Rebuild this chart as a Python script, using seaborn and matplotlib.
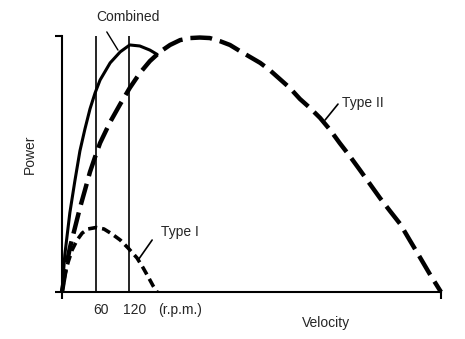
import matplotlib
matplotlib.use("Agg")
import matplotlib.pyplot as plt
import seaborn as sns
import pandas as pd

# Power-velocity relationships of Type I, Type II fibres and the combined muscle
velocity_type2 = [0, 7, 14, 23, 32, 41, 50, 59, 68, 86, 104, 121, 139, 157, 175, 193,
                  211, 229, 246, 264, 282, 300, 318, 336, 354, 371, 389, 407, 425, 443,
                  461, 479, 496, 514, 532, 550, 568, 586, 604, 621, 639, 657, 677]
power_type2 = [0, 9.4, 17.2, 25.0, 32.8, 39.8, 46.9, 52.7, 58.2, 66.4, 73.4, 79.7, 85.5,
               90.2, 93.8, 96.5, 98.4, 99.2, 99.4, 99.2, 98.0, 96.5, 94.1, 91.8, 89.5,
               86.7, 83.2, 79.7, 75.4, 71.9, 68.0, 63.3, 58.2, 53.1, 47.7, 42.2, 36.7,
               31.6, 26.6, 20.3, 13.7, 7.0, 0]

velocity_type1 = [0, 5, 11, 18, 27, 36, 46, 61, 75, 89, 104, 118, 134, 145, 154, 163, 170]
power_type1 = [0, 6.6, 11.7, 16.4, 20.3, 23.0, 24.6, 25.2, 24.6, 22.7, 20.3, 17.2, 13.3,
               9.4, 5.9, 2.3, 0]

velocity_combined = [0, 5, 14, 23, 32, 41, 50, 59, 68, 86, 104, 121, 139, 157, 170]
power_combined = [0, 14.5, 30.9, 43.4, 55.1, 63.7, 71.5, 77.7, 82.8, 89.5, 93.8, 96.5,
                  96.1, 94.5, 92.8]

marked_rpm = [60, 120]
marked_labels = ["60", "120"]
v_max = 677
p_max = 100

sns.set_style("white")
plt.rcParams["font.family"] = ["Liberation Sans", "DejaVu Sans"]

fig = plt.figure(figsize=(4.65, 3.39), dpi=100)
ax = fig.add_axes([62 / 465, 47 / 339, 379 / 465, 256 / 339])

df2 = pd.DataFrame({"v": velocity_type2, "p": power_type2})
df1 = pd.DataFrame({"v": velocity_type1, "p": power_type1})
dfc = pd.DataFrame({"v": velocity_combined, "p": power_combined})

sns.lineplot(data=df2, x="v", y="p", ax=ax, color="black", linewidth=3.2,
             linestyle=(0, (4.9, 1.8)), clip_on=False)
sns.lineplot(data=df1, x="v", y="p", ax=ax, color="black", linewidth=2.6,
             linestyle=(0, (2.5, 1.4)), clip_on=False)
sns.lineplot(data=dfc, x="v", y="p", ax=ax, color="black", linewidth=2.2,
             clip_on=False, solid_capstyle="round")

ax.vlines(marked_rpm, 0, p_max, colors="black", linewidth=1.2, clip_on=False)

ax.set_xlim(0, v_max)
ax.set_ylim(0, p_max)
for side in ["top", "right"]:
    ax.spines[side].set_visible(False)
for side in ["left", "bottom"]:
    ax.spines[side].set_color("black")
    ax.spines[side].set_linewidth(1.5)

ax.set_xticks([0, v_max])
ax.set_xticklabels(["", ""])
ax.set_yticks([0, p_max])
ax.set_yticklabels(["", ""])
ax.tick_params(axis="both", direction="out", length=5, width=1.5, color="black",
               bottom=True, left=True)
ax.set_xlabel("")
ax.set_ylabel("")

for rpm, lab in zip(marked_rpm, marked_labels):
    ax.text(rpm + 10, -7, lab, ha="center", va="center", fontsize=10)
ax.text(211, -7, "(r.p.m.)", ha="center", va="center", fontsize=10)

ax.text(471, -12, "Velocity", ha="center", va="center", fontsize=10)
fig.text(30 / 465, 1 - 154 / 339, "Power", rotation=90, ha="center", va="center",
         fontsize=10)

# curve labels with leader lines
ax.text(118, 107.4, "Combined", ha="center", va="center", fontsize=10)
ax.annotate("", xy=(100, 94.5), xytext=(80, 101.6),
            arrowprops=dict(arrowstyle="-", color="black", lw=1.0,
                            shrinkA=0, shrinkB=0), annotation_clip=False)

ax.text(176, 23.4, "Type I", ha="left", va="center", fontsize=10)
ax.annotate("", xy=(136, 12.5), xytext=(161, 20.3),
            arrowprops=dict(arrowstyle="-", color="black", lw=1.2,
                            shrinkA=0, shrinkB=0), annotation_clip=False)

ax.text(500, 73.8, "Type II", ha="left", va="center", fontsize=10)
ax.annotate("", xy=(470, 67.2), xytext=(493, 73.4),
            arrowprops=dict(arrowstyle="-", color="black", lw=1.2,
                            shrinkA=0, shrinkB=0), annotation_clip=False)

fig.savefig("out.png", dpi=100, facecolor="white")
